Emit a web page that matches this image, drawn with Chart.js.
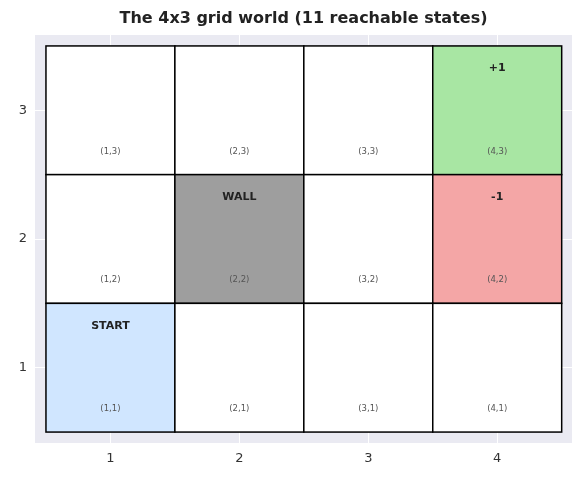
<!DOCTYPE html>
<html>
<head>
<meta charset="utf-8">
<script src="https://cdn.jsdelivr.net/npm/chart.js@4"></script>
<style>
  body { margin: 0; background: #fff; font-family: "DejaVu Sans"; }
  #wrap { width: 584px; height: 484px; }
  .pre { position: absolute; left: -999px; font-weight: bold; }
</style>
</head>
<body>
<span class="pre">preload</span><span class="pre" style="font-weight:normal">preload</span>
<div id="wrap"><canvas id="grid"></canvas></div>
<script>
// grid world data
const cellX = [1, 2, 3, 4, 1, 2, 3, 4, 1, 2, 3, 4];
const cellY = [3, 3, 3, 3, 2, 2, 2, 2, 1, 1, 1, 1];
const cellLabel = ["", "", "", "+1", "", "WALL", "", "-1", "START", "", "", ""];
const cellKind = ["empty", "empty", "empty", "goal", "empty", "wall", "empty", "pit", "start", "empty", "empty", "empty"];
const xTicks = [1, 2, 3, 4];
const yTicks = [1, 2, 3];

const kindColor = { empty: "#ffffff", goal: "#a8e6a3", pit: "#f4a6a6", wall: "#9e9e9e", start: "#d0e6ff" };

// fond gris + cases + textes
const gridPlugin = {
    id: "gridWorld",
    beforeDraw(chart) {
        const { ctx, chartArea: a } = chart;
        ctx.save();
        ctx.fillStyle = "#eaeaf2";
        ctx.fillRect(a.left, a.top, a.right - a.left, a.bottom - a.top);
        ctx.restore();
    },
    afterDatasetsDraw(chart) {
        const { ctx, scales: { x, y } } = chart;
        ctx.save();
        cellX.forEach((cx, i) => {
            const cy = cellY[i];
            const l = x.getPixelForValue(cx - 0.5), r = x.getPixelForValue(cx + 0.5);
            const t = y.getPixelForValue(cy + 0.5), b = y.getPixelForValue(cy - 0.5);
            ctx.fillStyle = kindColor[cellKind[i]];
            ctx.fillRect(l, t, r - l, b - t);
            ctx.strokeStyle = "#000";
            ctx.lineWidth = 1.5;
            ctx.strokeRect(l, t, r - l, b - t);
            ctx.textAlign = "center";
            ctx.textBaseline = "middle";
            if (cellLabel[i]) {
                ctx.fillStyle = "#222";
                ctx.font = "bold 11px 'DejaVu Sans'";
                ctx.fillText(cellLabel[i], x.getPixelForValue(cx), y.getPixelForValue(cy + 0.325));
            }
            ctx.fillStyle = "#555";
            ctx.font = "8.5px 'DejaVu Sans'";
            ctx.fillText("(" + cx + "," + cy + ")", x.getPixelForValue(cx), y.getPixelForValue(cy - 0.32));
        });
        ctx.fillStyle = "#222";
        ctx.font = "bold 16px 'DejaVu Sans'";
        ctx.fillText("The 4x3 grid world (11 reachable states)", (chart.chartArea.left + chart.chartArea.right) / 2, 19);
        ctx.restore();
    }
};

const axisCommon = {
    type: "linear",
    grid: { color: "#ffffff", lineWidth: 1, drawTicks: false },
    border: { display: false },
    ticks: { color: "#333", font: { size: 13, family: "DejaVu Sans" }, padding: 8 }
};

function draw() {
    new Chart(document.getElementById("grid"), {
        type: "scatter",
        data: { datasets: [{ data: [] }] },
        plugins: [gridPlugin],
        options: {
            responsive: true,
            maintainAspectRatio: false,
            animation: false,
            layout: { padding: { top: 35, right: 12, left: 0, bottom: 0 } },
            plugins: { legend: { display: false }, tooltip: { enabled: false } },
            scales: {
                x: {
                    ...axisCommon, min: 0.415, max: 4.58,
                    afterBuildTicks: s => { s.ticks = xTicks.map(v => ({ value: v })); },
                    afterFit: s => { s.height = 41; }
                },
                y: {
                    ...axisCommon, min: 0.415, max: 3.585,
                    afterBuildTicks: s => { s.ticks = yTicks.map(v => ({ value: v })); },
                    afterFit: s => { s.width = 35; }
                }
            }
        }
    });
}

Promise.all([
    document.fonts.load("bold 16px 'DejaVu Sans'"),
    document.fonts.load("13px 'DejaVu Sans'")
]).then(draw, draw);
</script>
</body>
</html>
